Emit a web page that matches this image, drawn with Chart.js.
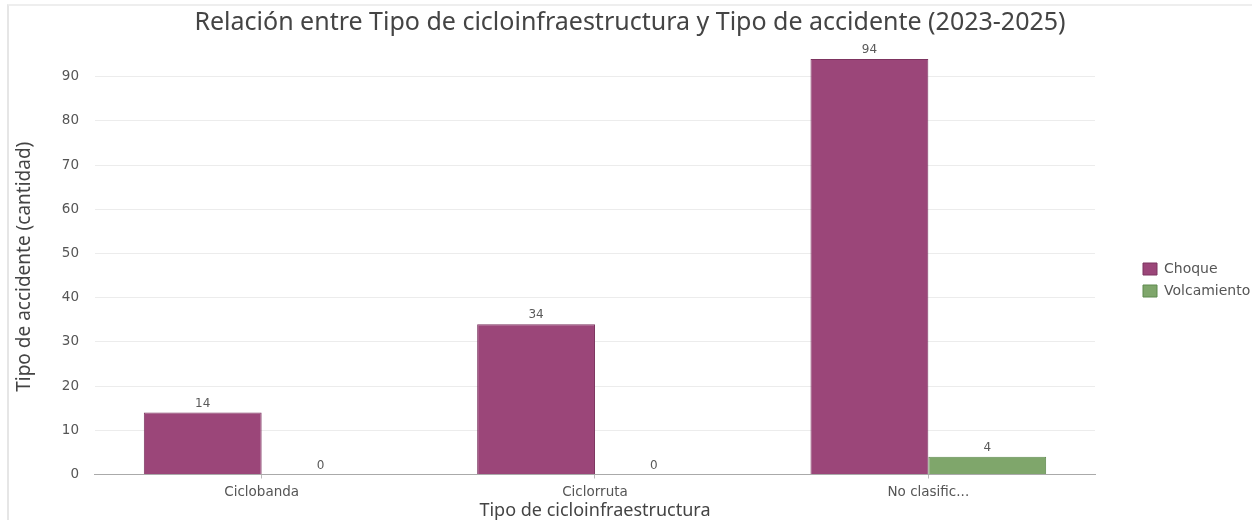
<!DOCTYPE html>
<html>

<head>
    <title>Cicloinfraestructura y accidentes</title>
    <meta charset="utf-8">
    <style>
        html, body { margin: 0; padding: 0; background: #fff; }
        #wrap {
            position: relative;
            width: 1252px;
            height: 520px;
        }
        #frame {
            position: absolute;
            left: 7px;
            top: 4px;
            width: 1245px;
            height: 516px;
            border-left: 2px solid #e6e6e6;
            border-top: 2px solid #eeeeee;
            box-sizing: border-box;
            pointer-events: none;
        }
    </style>
</head>

<body>
    <div id="wrap">
        <canvas id="myChart" width="1252" height="520"></canvas>
        <div id="frame"></div>
    </div>

    <script src="https://cdn.jsdelivr.net/npm/chart.js"></script>
    <script>
        const categories = ["Ciclobanda", "Ciclorruta", "No clasific..."];
        const choque = [14, 34, 94];
        const volcamiento = [0, 0, 4];
        const yTicks = [0, 10, 20, 30, 40, 50, 60, 70, 80, 90];

        const tickFont = { family: "DejaVu Sans", size: 13.5, lineHeight: 1 };

        // writes each bar's value just above it
        const barValues = {
            id: "barValues",
            afterDatasetsDraw(chart) {
                const ctx = chart.ctx;
                ctx.save();
                ctx.font = "12px 'DejaVu Sans'";
                ctx.fillStyle = "#5a5a5a";
                ctx.textAlign = "center";
                ctx.textBaseline = "bottom";
                chart.data.datasets.forEach((ds, i) => {
                    chart.getDatasetMeta(i).data.forEach((bar, j) => {
                        ctx.fillText(ds.data[j], bar.x, bar.y - 3);
                    });
                });
                ctx.restore();
            }
        };

        const ctx = document.getElementById('myChart');

        let chart = new Chart(ctx, {
            type: "bar",
            data: {
                labels: categories,
                datasets: [{
                    label: "Choque",
                    data: choque,
                    backgroundColor: "#9b4679",
                    borderColor: "#7d3460",
                    borderWidth: 1,
                    categoryPercentage: 0.707,
                    barPercentage: 1
                }, {
                    label: "Volcamiento",
                    data: volcamiento,
                    backgroundColor: "#7fa66b",
                    borderColor: "#5f8a4f",
                    borderWidth: 1,
                    categoryPercentage: 0.707,
                    barPercentage: 1
                }]
            },
            plugins: [barValues],
            options: {
                responsive: false,
                animation: false,
                layout: {
                    padding: { left: 8, right: 0, top: 4, bottom: 0 }
                },
                plugins: {
                    title: {
                        display: true,
                        text: "Relación entre Tipo de cicloinfraestructura y Tipo de accidente (2023-2025)",
                        color: "#444",
                        font: { family: "Noto Sans", size: 25, weight: "normal" },
                        padding: { top: 4, bottom: 21 }
                    },
                    legend: {
                        position: "right",
                        maxWidth: 117,
                        // blank title only pushes the entries down a little
                        title: {
                            display: true,
                            text: " ",
                            font: { size: 10, lineHeight: 1 },
                            padding: { top: 13, bottom: 13 }
                        },
                        labels: {
                            boxWidth: 14,
                            boxHeight: 12,
                            color: "#555",
                            font: { family: "DejaVu Sans", size: 14 },
                            padding: 8
                        }
                    },
                    tooltip: { enabled: false }
                },
                scales: {
                    x: {
                        grid: {
                            offset: false,
                            drawOnChartArea: false,
                            tickLength: 4,
                            color: "#bbb"
                        },
                        border: { color: "#aaa" },
                        ticks: { color: "#555", font: tickFont, padding: 7 },
                        title: {
                            display: true,
                            text: "Tipo de cicloinfraestructura",
                            color: "#444",
                            font: { family: "Noto Sans", size: 18, lineHeight: 1 },
                            padding: { top: -4, bottom: 0 }
                        }
                    },
                    y: {
                        min: 0,
                        max: 94,
                        afterBuildTicks(scale) {
                            scale.ticks = yTicks.map(v => ({ value: v }));
                        },
                        grid: { color: "#ececec", drawTicks: false },
                        border: { display: false },
                        ticks: { color: "#555", font: tickFont, padding: 16 },
                        title: {
                            display: true,
                            text: "Tipo de accidente (cantidad)",
                            color: "#444",
                            font: { family: "Noto Sans", size: 19 },
                            padding: { top: 5, bottom: 10 }
                        }
                    },
                    // empty strip between the plot and the legend
                    gap: {
                        type: "linear",
                        position: "right",
                        grid: { display: false },
                        border: { display: false },
                        ticks: { display: false },
                        afterFit(scale) {
                            scale.width = 40;
                        }
                    }
                }
            }
        });
    </script>
</body>

</html>
